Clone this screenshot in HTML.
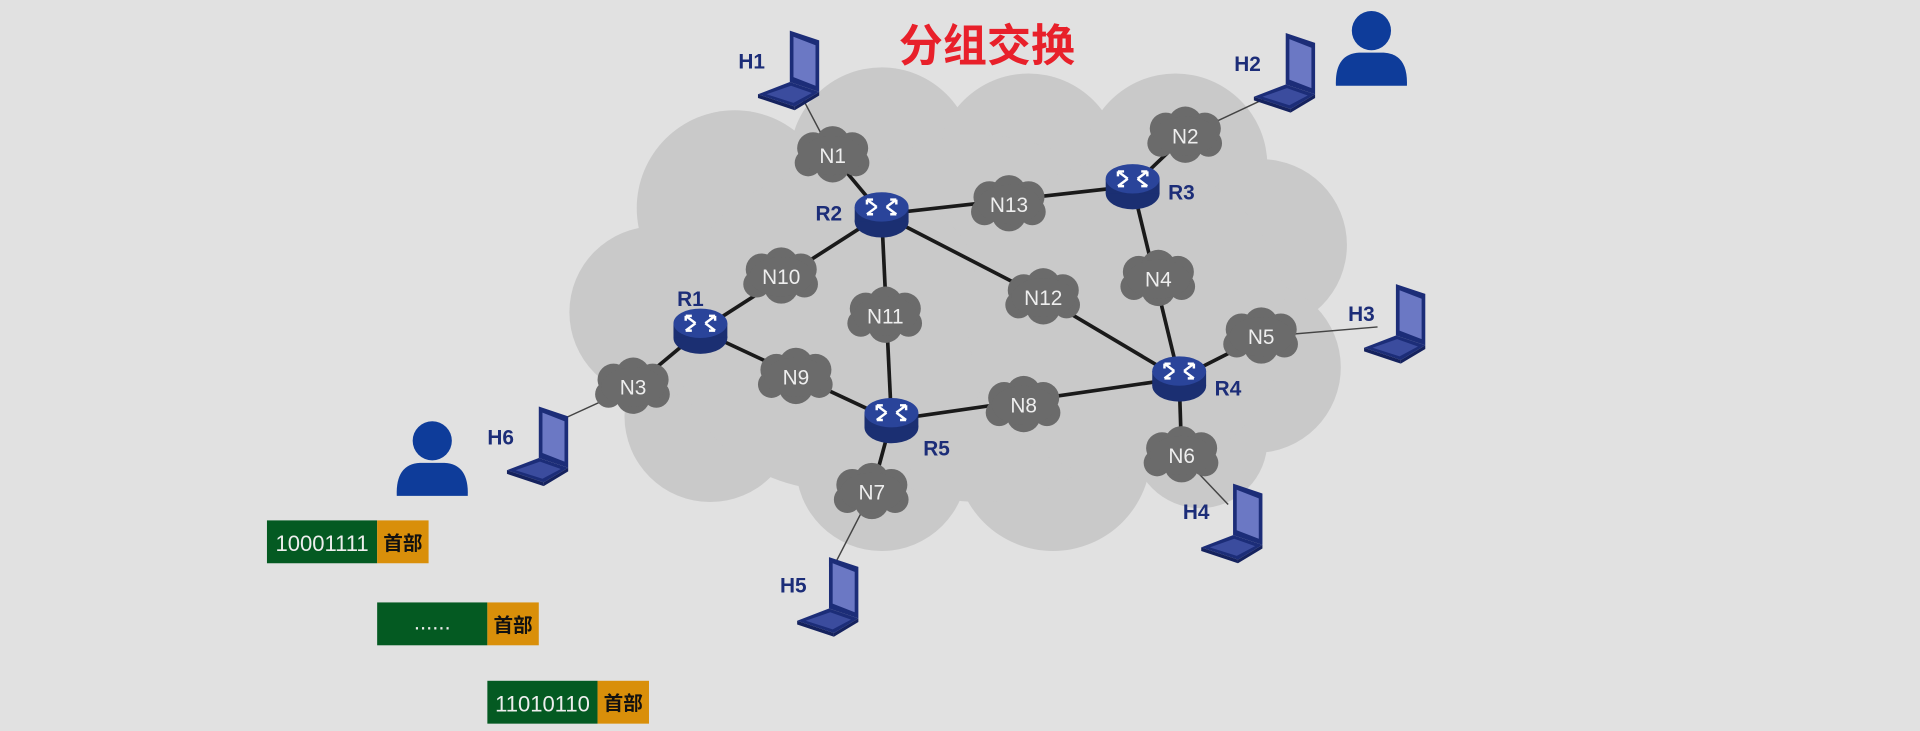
<!DOCTYPE html>
<html><head><meta charset="utf-8"><style>
html,body{margin:0;padding:0;background:#e1e1e1;}
svg{display:block;}
text{font-family:"Liberation Sans","Noto Sans CJK SC",sans-serif;}
</style></head><body>
<svg width="1920" height="731" viewBox="0 0 1568 597" xmlns="http://www.w3.org/2000/svg">
<defs>
<g id="cl" fill="#6b6b6b">
<circle cx="-16" cy="-6" r="13"/><circle cx="0" cy="-10" r="14"/><circle cx="16" cy="-6" r="13"/>
<circle cx="-20" cy="6" r="11"/><circle cx="0" cy="8" r="14"/><circle cx="19" cy="6" r="11"/>
<ellipse cx="0" cy="0" rx="26" ry="16"/>
</g>
<g id="rt">
<ellipse cx="0" cy="6" rx="22" ry="13" fill="#1b2f72"/>
<rect x="-22" y="-6" width="44" height="12" fill="#1b2f72"/>
<ellipse cx="0" cy="-6" rx="22" ry="12" fill="#2a449a"/>
<path d="M-12 -12 L-4 -6 M12 -12 L4 -6 M-12 0 L-4 -6 M12 0 L4 -6 M-12 -12 l5 0 M-12 -12 l0 4 M12 -12 l-5 0 M12 -12 l0 4 M-12 0 l5 0 M12 0 l-5 0" stroke="#fff" stroke-width="2" fill="none"/>
</g>
<g id="lp">
<polygon points="0,-30 24,-22 24,20 0,12" fill="#1c2d78"/>
<polygon points="3,-25 21,-18 21,15 3,8" fill="#6b78c4"/>
<polygon points="0,12 24,20 4,32 -26,22" fill="#1c2d78"/>
<polygon points="1,15 18,21 3,29 -19,22" fill="#3b4c9e"/>
<polygon points="-26,22 4,32 4,35 -26,25" fill="#15225e"/>
<polygon points="4,32 24,20 24,23 4,35" fill="#15225e"/>
</g>
<g id="ps" fill="#0e3c9a">
<circle cx="0" cy="-13" r="16"/>
<path d="M-29 32 Q-30 6 -10 5 L10 5 Q30 6 29 32 Z"/>
</g>
</defs>
<rect width="1568" height="597" fill="#e1e1e1"/>
<g fill="#c9c9c9">
<circle cx="600" cy="170" r="80"/><circle cx="720" cy="130" r="75"/><circle cx="840" cy="135" r="75"/>
<circle cx="960" cy="135" r="75"/><circle cx="1030" cy="200" r="70"/><circle cx="1025" cy="300" r="70"/>
<circle cx="980" cy="360" r="55"/><circle cx="860" cy="370" r="80"/><circle cx="720" cy="380" r="70"/>
<circle cx="580" cy="340" r="70"/><circle cx="535" cy="255" r="70"/><circle cx="800" cy="260" r="150"/>
<circle cx="680" cy="270" r="130"/><circle cx="920" cy="260" r="130"/>
</g>
<g stroke="#444" stroke-width="1.2">
<line x1="650" y1="70" x2="680" y2="127"/><line x1="968" y1="111" x2="1045" y2="75"/>
<line x1="1030" y1="275" x2="1125" y2="267"/><line x1="965" y1="372" x2="1003" y2="412"/>
<line x1="712" y1="402" x2="678" y2="468"/><line x1="517" y1="316" x2="458" y2="343"/>
</g>
<g stroke="#1a1a1a" stroke-width="3">
<line x1="680" y1="127" x2="720" y2="175"/><line x1="720" y1="175" x2="925" y2="152"/>
<line x1="925" y1="152" x2="968" y2="111"/><line x1="925" y1="152" x2="963" y2="309"/>
<line x1="963" y1="309" x2="1030" y2="275"/><line x1="963" y1="309" x2="965" y2="372"/>
<line x1="963" y1="309" x2="728" y2="343"/><line x1="728" y1="343" x2="712" y2="402"/>
<line x1="728" y1="343" x2="720" y2="175"/><line x1="720" y1="175" x2="852" y2="243"/>
<line x1="852" y1="243" x2="963" y2="309"/><line x1="720" y1="175" x2="572" y2="270"/>
<line x1="572" y1="270" x2="728" y2="343"/><line x1="572" y1="270" x2="517" y2="316"/>
</g>
<g font-size="17" fill="#eee" text-anchor="middle">
<use href="#cl" x="680" y="127"/><text x="680" y="133">N1</text>
<use href="#cl" x="968" y="111"/><text x="968" y="117">N2</text>
<use href="#cl" x="824" y="167"/><text x="824" y="173">N13</text>
<use href="#cl" x="638" y="226"/><text x="638" y="232">N10</text>
<use href="#cl" x="723" y="258"/><text x="723" y="264">N11</text>
<use href="#cl" x="852" y="243"/><text x="852" y="249">N12</text>
<use href="#cl" x="946" y="228"/><text x="946" y="234">N4</text>
<use href="#cl" x="1030" y="275"/><text x="1030" y="281">N5</text>
<use href="#cl" x="517" y="316"/><text x="517" y="322">N3</text>
<use href="#cl" x="650" y="308"/><text x="650" y="314">N9</text>
<use href="#cl" x="836" y="331"/><text x="836" y="337">N8</text>
<use href="#cl" x="712" y="402"/><text x="712" y="408">N7</text>
<use href="#cl" x="965" y="372"/><text x="965" y="378">N6</text>
</g>
<use href="#rt" x="572" y="270"/><use href="#rt" x="720" y="175"/><use href="#rt" x="925" y="152"/>
<use href="#rt" x="963" y="309"/><use href="#rt" x="728" y="343"/>
<use href="#lp" x="645" y="55"/><use href="#lp" x="1050" y="57"/><use href="#lp" x="1140" y="262"/>
<use href="#lp" x="1007" y="425"/><use href="#lp" x="677" y="485"/><use href="#lp" x="440" y="362"/>
<use href="#ps" x="1120" y="38"/><use href="#ps" x="353" y="373"/>
<g font-size="17" font-weight="bold" fill="#1c2d78">
<text x="553" y="250">R1</text><text x="666" y="180">R2</text><text x="954" y="163">R3</text>
<text x="992" y="323">R4</text><text x="754" y="372">R5</text>
<text x="603" y="56">H1</text><text x="1008" y="58">H2</text><text x="1101" y="262">H3</text>
<text x="966" y="424">H4</text><text x="637" y="484">H5</text><text x="398" y="363">H6</text>
</g>
<text x="806" y="50" font-size="36" font-weight="bold" fill="#e8202a" text-anchor="middle">分组交换</text>
<g font-size="18">
<rect x="218" y="425" width="90" height="35" fill="#045a22"/><rect x="308" y="425" width="42" height="35" fill="#d98f0a"/>
<text x="263" y="450" fill="#eee" text-anchor="middle">10001111</text>
<text x="329" y="449" fill="#111" font-weight="bold" font-size="16" text-anchor="middle">首部</text>
<rect x="308" y="492" width="90" height="35" fill="#045a22"/><rect x="398" y="492" width="42" height="35" fill="#d98f0a"/>
<text x="353" y="514" fill="#eee" text-anchor="middle">......</text>
<text x="419" y="516" fill="#111" font-weight="bold" font-size="16" text-anchor="middle">首部</text>
<rect x="398" y="556" width="90" height="35" fill="#045a22"/><rect x="488" y="556" width="42" height="35" fill="#d98f0a"/>
<text x="443" y="581" fill="#eee" text-anchor="middle">11010110</text>
<text x="509" y="580" fill="#111" font-weight="bold" font-size="16" text-anchor="middle">首部</text>
</g>
</svg>
</body></html>
